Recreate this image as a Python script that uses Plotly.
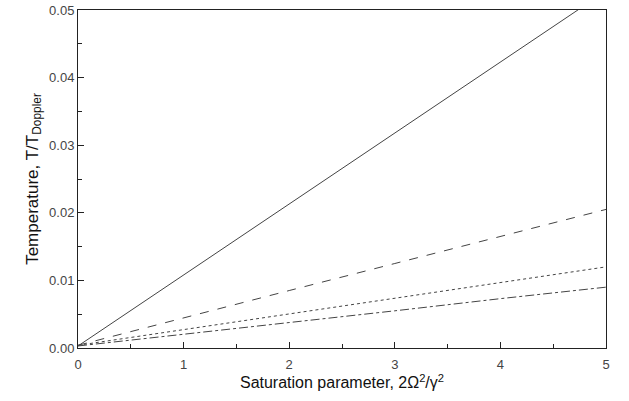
import plotly.graph_objects as go

x_vals = [0, 1, 2, 3, 4, 5]
solid_T = [0.0003, 0.0108, 0.0213, 0.0318, 0.0423, 0.0528]
dashed_T = [0.0004, 0.0045, 0.0085, 0.0125, 0.0165, 0.0205]
dotted_T = [0.0004, 0.0027, 0.0050, 0.0073, 0.0096, 0.0120]
dashdot_T = [0.0003, 0.0020, 0.0038, 0.0055, 0.0073, 0.0090]

x_ticks = [0, 1, 2, 3, 4, 5]
y_ticks = [0.00, 0.01, 0.02, 0.03, 0.04, 0.05]
y_tick_text = ["0.00", "0.01", "0.02", "0.03", "0.04", "0.05"]

fig = go.Figure()
styles = [(solid_T, "solid"), (dashed_T, "dash"), (dotted_T, "dot"), (dashdot_T, "dashdot")]
for ys, dash in styles:
    fig.add_trace(go.Scatter(x=x_vals, y=ys, mode="lines",
                             line=dict(color="#444444", width=1, dash=dash),
                             showlegend=False, cliponaxis=True))

font = "Liberation Sans, Arial, sans-serif"
fig.update_layout(
    width=629, height=401,
    margin=dict(l=78, r=23, t=10, b=53),
    plot_bgcolor="white", paper_bgcolor="white",
    font=dict(family=font, color="#444444", size=13),
)
fig.update_xaxes(
    range=[0, 5], tickvals=x_ticks, ticks="inside", ticklen=6, tickcolor="#222",
    showline=True, linecolor="#222", linewidth=1, mirror=True, showgrid=False, zeroline=False,
    minor=dict(ticks="inside", ticklen=4, dtick=0.5, tickcolor="#222", showgrid=False),
    tickfont=dict(size=13, color="#444"), ticklabelstandoff=4, automargin=False,
    title=dict(text="Saturation parameter, 2Ω<sup>2</sup>/γ<sup>2</sup>",
               font=dict(size=16, color="#111", family=font), standoff=4),
)
fig.update_yaxes(
    range=[0, 0.05], tickvals=y_ticks, ticktext=y_tick_text, ticks="inside", ticklen=6, tickcolor="#222",
    showline=True, linecolor="#222", linewidth=1, mirror=True, showgrid=False, zeroline=False,
    minor=dict(ticks="inside", ticklen=4, dtick=0.005, tickcolor="#222", showgrid=False),
    tickfont=dict(size=13, color="#444"), automargin=False,
    title=dict(text="Temperature, T/T<sub>Doppler</sub>",
               font=dict(size=17, color="#111", family=font), standoff=6),
)
fig.write_html("out.html", post_script="document.body.style.margin='0';",
               config={"displayModeBar": False})
